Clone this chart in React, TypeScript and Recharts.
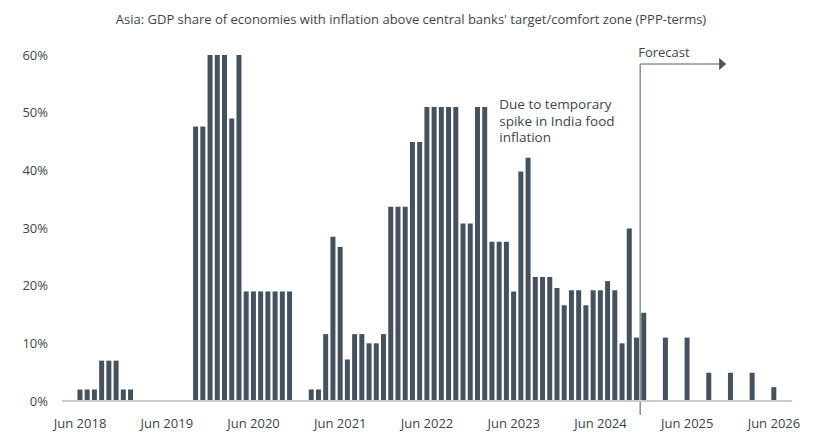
import React from 'react';
import { BarChart, Bar, XAxis, YAxis, ReferenceLine, ReferenceDot } from 'recharts';

const title = "Asia: GDP share of economies with inflation above central banks' target/comfort zone (PPP-terms)";

const monthNames = ['Jan', 'Feb', 'Mar', 'Apr', 'May', 'Jun', 'Jul', 'Aug', 'Sep', 'Oct', 'Nov', 'Dec'];

// share of GDP (%), monthly; forecast is quarterly (null = no value)
const values2018 = [0, 0, 2, 2, 2, 7, 7, 7, 2]; // Apr-Dec
const values2019 = [2, 0, 0, 0, 0, 0, 0, 0, 0, 47.6, 47.6, 60];
const values2020 = [60, 60, 49, 60, 19, 19, 19, 19, 19, 19, 19, 0];
const values2021 = [0, 2, 2, 11.6, 28.5, 26.7, 7.2, 11.6, 11.6, 10, 10, 11.6];
const values2022 = [33.7, 33.7, 33.7, 44.9, 44.9, 51, 51, 51, 51, 51, 30.8, 30.8];
const values2023 = [51, 51, 27.6, 27.6, 27.6, 19, 39.8, 42.2, 21.5, 21.5, 21.5, 19.6];
const values2024 = [16.6, 19.2, 19.2, 16.6, 19.2, 19.2, 20.8, 19.2, 10, 29.9, 11, 15.3];
const values2025 = [null, null, 11, null, null, 11, null, null, 4.9, null, null, 4.9];
const values2026 = [null, null, 4.9, null, null, 2.4, null, null]; // Jan-Aug

const yearSeries: [number, number, (number | null)[]][] = [
  [2018, 3, values2018],
  [2019, 0, values2019],
  [2020, 0, values2020],
  [2021, 0, values2021],
  [2022, 0, values2022],
  [2023, 0, values2023],
  [2024, 0, values2024],
  [2025, 0, values2025],
  [2026, 0, values2026],
];

const data = yearSeries.flatMap(([year, first, vals]) =>
  vals.map((value, i) => ({ month: `${monthNames[first + i]} ${year}`, value }))
);

const xTicks = ['Jun 2018', 'Jun 2019', 'Jun 2020', 'Jun 2021', 'Jun 2022', 'Jun 2023', 'Jun 2024', 'Jun 2025', 'Jun 2026'];
const yTicks = [0, 10, 20, 30, 40, 50, 60];

const forecastStart = 'Dec 2024';
const noteLines = ['Due to temporary', 'spike in India food', 'inflation'];

const FONT = '"Open Sans", sans-serif';
const TEXT = '#3d4650';
const BAR = '#45525e';

// vertical divider + arrow pointing right, labelled "Forecast"
const ForecastMarker = (props: any) => {
  const x = props.x1;
  const top = Math.min(props.y1, props.y2) + 9;
  const bottom = Math.max(props.y1, props.y2) + 14;
  return (
    <g>
      <line x1={x} y1={top} x2={x} y2={bottom} stroke="#8d959c" strokeWidth={1.6} />
      <line x1={x} y1={top} x2={x + 80} y2={top} stroke="#8d959c" strokeWidth={1.6} />
      <polygon points={`${x + 79},${top - 6} ${x + 86},${top} ${x + 79},${top + 6}`} fill={BAR} />
      <text x={x - 2} y={top - 7.5} fontSize={13} fill={TEXT} fontFamily={FONT}>
        Forecast
      </text>
    </g>
  );
};

const NoteText = (props: any) => (
  <text x={props.cx} y={props.cy} fontSize={13.5} fill={TEXT} fontFamily={FONT}>
    {noteLines.map((line, i) => (
      <tspan key={line} x={props.cx} dy={i === 0 ? 0 : 16.5}>
        {line}
      </tspan>
    ))}
  </text>
);

const App: React.FC = () => {
  return (
    <div style={{ position: 'absolute', left: 0, top: 0, width: 821, height: 442, background: '#fff' }}>
      <svg width={821} height={34} style={{ position: 'absolute', left: 0, top: 0 }}>
        <text x={411} y={23.5} textAnchor="middle" fontSize={13} fill={TEXT} fontFamily={FONT}>
          {title}
        </text>
      </svg>
      <BarChart
        width={821}
        height={442}
        data={data}
        margin={{ top: 55, right: 29, bottom: 11, left: 0 }}
        style={{ fontFamily: FONT }}
      >
        <XAxis
          dataKey="month"
          ticks={xTicks}
          interval={0}
          tickLine={false}
          tickSize={0}
          tickMargin={18}
          height={30}
          axisLine={{ stroke: '#c9cdd2', strokeWidth: 2 }}
          tick={{ fill: TEXT, fontSize: 13 }}
        />
        <YAxis
          domain={[0, 60]}
          ticks={yTicks}
          width={62}
          axisLine={false}
          tickLine={false}
          tickSize={0}
          tickMargin={14}
          tickFormatter={(v: number) => `${v}%`}
          tick={{ fill: TEXT, fontSize: 13 }}
        />
        <Bar dataKey="value" fill={BAR} barSize={5} isAnimationActive={false} />
        <ReferenceLine x={forecastStart} position="start" shape={ForecastMarker} />
        <ReferenceDot x="Apr 2023" y={50.6} r={0} shape={NoteText} />
      </BarChart>
    </div>
  );
};

export default App;
